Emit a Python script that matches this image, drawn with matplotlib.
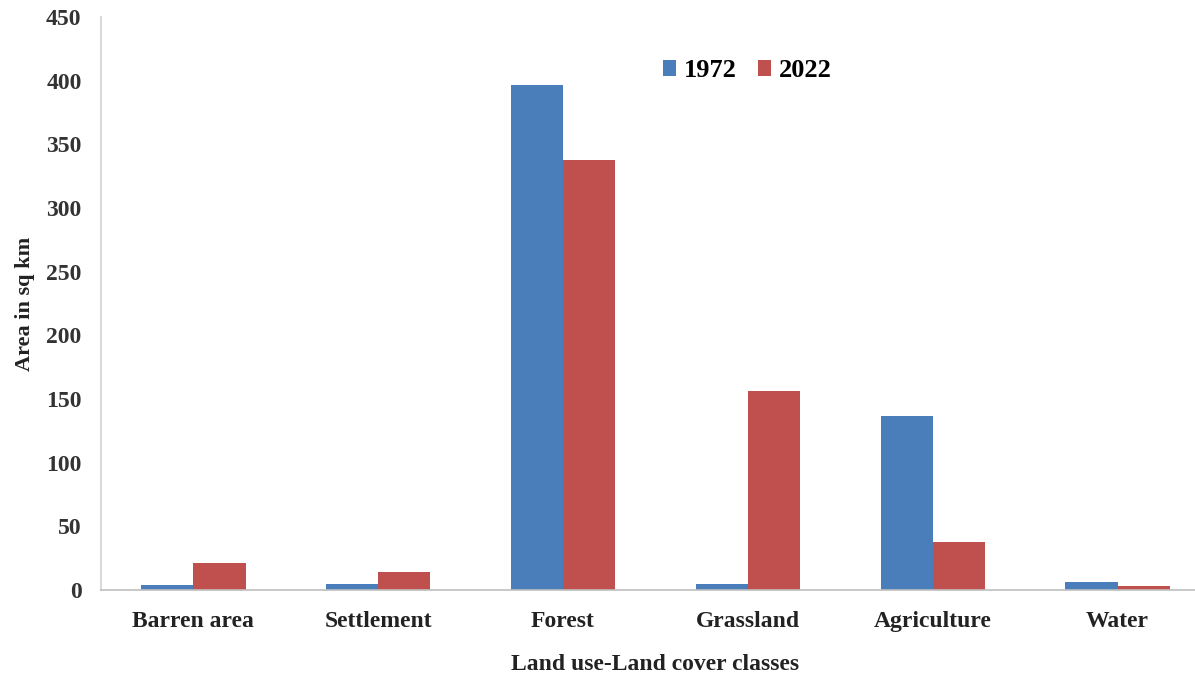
import matplotlib
matplotlib.use("Agg")
import matplotlib.pyplot as plt
import numpy as np

categories = ["Barren area", "Settlement", "Forest", "Grassland", "Agriculture", "Water"]
values_1972 = [4, 5, 397, 5, 137, 6.5]
values_2022 = [21, 14, 338, 156, 38, 3]
series_names = ["1972", "2022"]
y_ticks = [0, 50, 100, 150, 200, 250, 300, 350, 400, 450]

plt.rcParams['font.family'] = ['Liberation Serif', 'DejaVu Serif']
plt.rcParams['font.weight'] = 'bold'

fig = plt.figure(figsize=(11.95, 6.73), dpi=100)
ax = fig.add_axes([0.0845, 0.1233, 0.928, 0.8514])

x = np.arange(len(categories))
w = 0.282
ax.bar(x - w/2, values_1972, width=w, color="#4A7EBB", label=series_names[0])
ax.bar(x + w/2, values_2022, width=w, color="#C0504D", label=series_names[1])

ax.set_xlim(-0.5, len(categories) - 0.5)
ax.set_ylim(0, 450)
ax.set_yticks(y_ticks)
ax.set_xticks(x)
ax.set_xticklabels(categories, fontsize=17, fontweight='bold')
ax.tick_params(axis='y', labelsize=17, length=0, pad=14, labelcolor='#333333')
ax.tick_params(axis='x', length=0, pad=15, labelcolor='#222222')
for lbl in ax.get_yticklabels():
    lbl.set_fontweight('bold')

for s in ['top', 'right']:
    ax.spines[s].set_visible(False)
ax.spines['left'].set_color('#D9D9D9')
ax.spines['left'].set_linewidth(1.5)
ax.spines['bottom'].set_color('#BFBFBF')
ax.spines['bottom'].set_linewidth(1.2)

ax.set_ylabel("Area in sq km", fontsize=16, fontweight='bold', labelpad=8, color='#222222')
ax.set_xlabel("Land use-Land cover classes", fontsize=17, fontweight='bold', labelpad=16, color='#222222')

leg = ax.legend(loc='center left', bbox_to_anchor=(0.485, 0.906), ncol=2, frameon=False,
                handlelength=0.5, handleheight=0.5, handletextpad=0.3,
                columnspacing=0.8, prop={'weight': 'bold', 'size': 19})

fig.savefig("out.png", dpi=100)
